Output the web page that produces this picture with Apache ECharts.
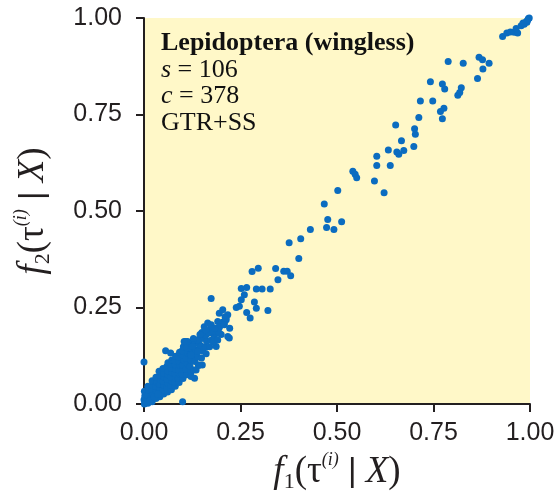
<!DOCTYPE html>
<html>
<head>
<meta charset="utf-8">
<script src="https://cdn.jsdelivr.net/npm/echarts@6/dist/echarts.min.js"></script>
<style type="text/css">
  html, body { margin:0; padding:0; background:#fff; }
</style>
</head>
<body>
<div id="chart" style="width: 559px;height:494px;"></div>
<script type="text/javascript">
  // tick values on both axes
  var ticks = [0, 0.25, 0.5, 0.75, 1];

  // upper / sparse part of the scatter, [f1, f2]
  var upperPoints = [
    [0.929,0.952],[0.940,0.961],[0.949,0.964],[0.959,0.963],[0.968,0.961],[0.964,0.973],[0.977,0.980],
    [0.985,0.984],[0.990,0.990],[0.992,0.989],[0.996,0.999],[0.998,1.000],[0.994,0.995],[0.982,0.987],
    [0.788,0.887],[0.827,0.883],[0.868,0.898],[0.877,0.892],[0.894,0.883],[0.878,0.868],[0.864,0.843],
    [0.742,0.835],[0.773,0.829],[0.779,0.816],[0.822,0.819],[0.813,0.800],[0.818,0.807],
    [0.716,0.785],[0.748,0.785],[0.777,0.766],[0.768,0.758],[0.773,0.739],
    [0.712,0.742],[0.652,0.723],[0.701,0.713],[0.703,0.699],[0.667,0.682],[0.699,0.667],[0.673,0.657],
    [0.655,0.653],[0.660,0.647],[0.633,0.658],[0.603,0.642],[0.603,0.618],[0.638,0.618],[0.541,0.603],
    [0.547,0.595],[0.551,0.586],[0.597,0.578],[0.622,0.547],[0.502,0.553],
    [0.467,0.518],[0.476,0.478],[0.512,0.472],[0.473,0.457],[0.492,0.452],[0.431,0.452],[0.406,0.428],
    [0.376,0.418],[0.401,0.377],[0.296,0.352],[0.280,0.343],[0.341,0.351],[0.362,0.344],[0.371,0.344],
    [0.380,0.332],[0.347,0.322],[0.252,0.299],[0.266,0.302],[0.291,0.298],[0.306,0.298],[0.327,0.298],
    [0.260,0.283],[0.252,0.270],[0.286,0.264],[0.291,0.248],[0.321,0.242],[0.239,0.250],[0.247,0.253],
    [0.266,0.237],[0.275,0.223],[0.174,0.273]
  ];

  // dense cluster near the origin, read column by column
  var clusterPoints = [
    [0.001,0.000],[0.000,0.011],[0.002,0.021],[0.001,0.033],
    [0.010,0.002],[0.011,0.013],[0.009,0.023],[0.012,0.035],[0.010,0.046],
    [0.021,0.006],[0.019,0.016],[0.022,0.027],[0.020,0.038],[0.023,0.049],[0.021,0.060],
    [0.031,0.014],[0.029,0.024],[0.032,0.035],[0.030,0.046],[0.033,0.057],[0.031,0.069],
    [0.041,0.019],[0.039,0.030],[0.042,0.041],[0.040,0.052],[0.043,0.063],[0.041,0.074],[0.039,0.085],
    [0.051,0.026],[0.049,0.037],[0.052,0.048],[0.050,0.059],[0.053,0.070],[0.051,0.081],[0.049,0.092],
    [0.061,0.031],[0.059,0.042],[0.062,0.053],[0.060,0.064],[0.063,0.075],[0.061,0.086],[0.059,0.097],[0.062,0.107],
    [0.071,0.037],[0.069,0.048],[0.072,0.059],[0.070,0.070],[0.073,0.081],[0.071,0.092],[0.069,0.103],[0.072,0.114],
    [0.081,0.046],[0.079,0.057],[0.082,0.068],[0.080,0.079],[0.083,0.090],[0.081,0.101],[0.079,0.112],[0.082,0.124],
    [0.091,0.056],[0.089,0.067],[0.092,0.078],[0.090,0.089],[0.093,0.100],[0.091,0.111],[0.089,0.122],[0.092,0.134],
    [0.101,0.066],[0.099,0.078],[0.102,0.090],[0.100,0.102],[0.103,0.114],[0.101,0.126],[0.099,0.138],[0.102,0.148],
    [0.111,0.076],[0.109,0.090],[0.112,0.104],[0.110,0.118],[0.113,0.132],[0.111,0.146],
    [0.121,0.082],[0.119,0.098],[0.122,0.113],[0.120,0.128],[0.123,0.143],[0.121,0.158],
    [0.131,0.067],[0.129,0.088],[0.132,0.110],[0.130,0.126],[0.133,0.141],[0.131,0.160],
    [0.141,0.100],[0.139,0.122],[0.142,0.140],[0.140,0.166],[0.143,0.155],
    [0.151,0.101],[0.149,0.119],[0.152,0.137],[0.150,0.170],[0.148,0.150],
    [0.161,0.130],[0.159,0.147],[0.162,0.163],[0.160,0.178],
    [0.170,0.148],[0.174,0.165],[0.172,0.190],[0.174,0.201],
    [0.187,0.149],[0.182,0.175],[0.187,0.184],[0.180,0.160],
    [0.195,0.198],[0.200,0.180],[0.204,0.212],[0.208,0.210],[0.213,0.218],[0.217,0.175],[0.221,0.171],
    [0.195,0.235],[0.204,0.244],[0.210,0.226],[0.222,0.196],
    [0.113,0.162],[0.139,0.166],[0.108,0.162],[0.056,0.138],[0.069,0.132],[0.000,0.109],[0.100,0.006],
    [0.104,0.162],[0.126,0.149],[0.156,0.200],[0.165,0.210],[0.174,0.205],[0.191,0.214],[0.195,0.200],
    [0.169,0.184],[0.178,0.188],[0.195,0.184],[0.191,0.166],[0.217,0.231],[0.212,0.222],[0.208,0.205],
    [0.139,0.136],[0.122,0.071],[0.135,0.088],[0.143,0.101],[0.122,0.127],[0.150,0.185],[0.160,0.192],
    [0.145,0.180],[0.128,0.170],[0.183,0.196],[0.005,0.005],[0.015,0.008],[0.026,0.018],[0.036,0.026]
  ];

  var allPoints = upperPoints.concat(clusterPoints);

  var myChart = echarts.init(document.getElementById('chart'));

  var axisColor = '#231f20';
  var serif = 'Liberation Serif';

  // rich styles for f(tau | X) axis names
  var nameRich = {
    it: { fontFamily: serif, fontStyle: 'italic', fontSize: 37, color: axisColor, lineHeight: 42 },
    n:  { fontFamily: serif, fontSize: 37, color: axisColor, lineHeight: 42 },
    sb: { fontFamily: serif, fontSize: 22, color: axisColor, verticalAlign: 'bottom', lineHeight: 42 },
    sp: { fontFamily: serif, fontStyle: 'italic', fontSize: 18, color: axisColor, verticalAlign: 'top', lineHeight: 42 },
    bar:{ fontFamily: 'Liberation Sans', fontSize: 33, color: axisColor, lineHeight: 42 }
  };

  function axisName(k) {
    return '{it|f}{sb|' + k + '}{n|(τ}{sp|(i)}{bar| | }{it|X}{n|)}';
  }

  myChart.setOption({
    animation: false,
    title: {
      left: 161,
      top: 30,
      padding: 0,
      text: '{b|Lepidoptera (wingless)}\n{i|s}{n| = 106}\n{i|c}{n| = 378}\n{n|GTR+SS}',
      textStyle: {
        fontWeight: 'normal',
        rich: {
          b: { fontFamily: serif, fontWeight: 'bold', fontSize: 26, lineHeight: 26.5, color: '#111' },
          i: { fontFamily: serif, fontWeight: 'normal', fontStyle: 'italic', fontSize: 26, lineHeight: 26.5, color: '#111' },
          n: { fontFamily: serif, fontWeight: 'normal', fontSize: 26, lineHeight: 26.5, color: '#111' }
        }
      }
    },
    grid: {
      left: 144,
      right: 29,
      top: 18,
      bottom: 90,
      outerBoundsMode: 'none',
      show: true,
      backgroundColor: '#fff8c8',
      borderWidth: 0
    },
    xAxis: {
      type: 'value',
      min: ticks[0],
      max: ticks[ticks.length - 1],
      interval: 0.25,
      name: axisName('1'),
      nameLocation: 'middle',
      nameGap: 45,
      nameTextStyle: { rich: nameRich },
      splitLine: { show: false },
      axisLine: { lineStyle: { color: axisColor, width: 2 } },
      axisTick: { length: 8, lineStyle: { color: axisColor, width: 2 } },
      axisLabel: {
        margin: 17,
        fontFamily: 'Liberation Sans',
        fontSize: 25,
        color: axisColor,
        formatter: function (v) { return v.toFixed(2); }
      }
    },
    yAxis: {
      type: 'value',
      min: ticks[0],
      max: ticks[ticks.length - 1],
      interval: 0.25,
      name: axisName('2'),
      nameLocation: 'middle',
      nameRotate: 90,
      nameGap: 90,
      nameTextStyle: { rich: nameRich },
      splitLine: { show: false },
      axisLine: { lineStyle: { color: axisColor, width: 2 } },
      axisTick: { length: 8, lineStyle: { color: axisColor, width: 2 } },
      axisLabel: {
        margin: 22,
        fontFamily: 'Liberation Sans',
        fontSize: 25,
        color: axisColor,
        formatter: function (v) { return v.toFixed(2); }
      }
    },
    series: [{
      type: 'scatter',
      clip: false,
      symbolSize: 7,
      itemStyle: { color: '#0b6cc0', opacity: 1 },
      data: allPoints
    }]
  });
</script>
</body>
</html>
